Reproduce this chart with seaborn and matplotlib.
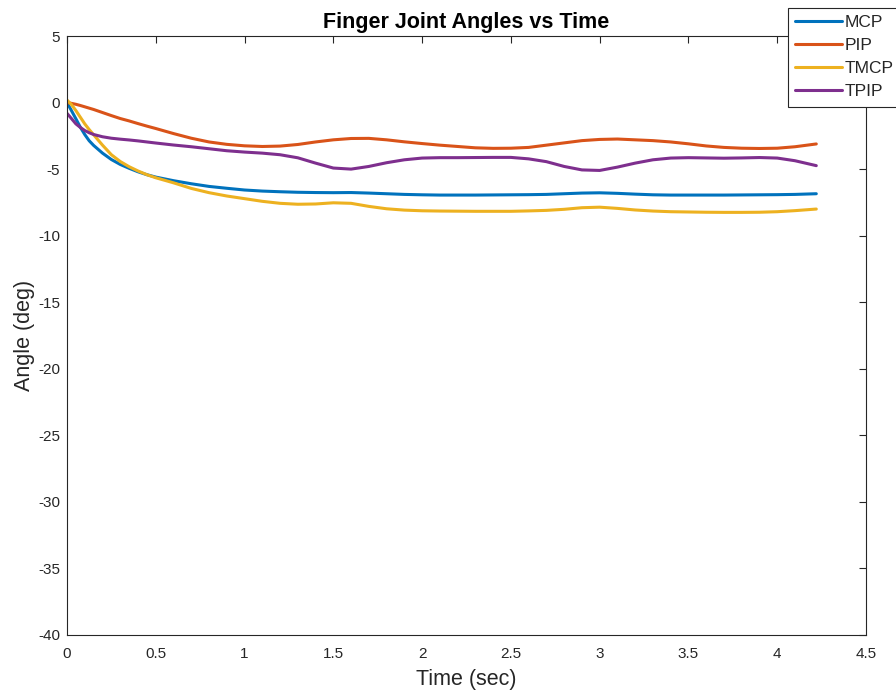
import matplotlib
matplotlib.use("Agg")
import matplotlib.pyplot as plt
import pandas as pd
import seaborn as sns

# Sample times (s)
time_s = [0.0, 0.025, 0.05, 0.075, 0.1, 0.125, 0.15, 0.2, 0.25, 0.3,
          0.35, 0.4, 0.45, 0.5, 0.6, 0.7, 0.8, 0.9, 1.0, 1.1,
          1.2, 1.3, 1.4, 1.5, 1.6, 1.7, 1.8, 1.9, 2.0, 2.1,
          2.2, 2.3, 2.4, 2.5, 2.6, 2.7, 2.8, 2.9, 3.0, 3.1,
          3.2, 3.3, 3.4, 3.5, 3.6, 3.7, 3.8, 3.9, 4.0, 4.1, 4.22]

# Joint angles (deg)
mcp = [0.0, -0.6, -1.22, -1.85, -2.4, -2.87, -3.22, -3.8, -4.28, -4.65,
       -4.94, -5.2, -5.42, -5.6, -5.87, -6.1, -6.3, -6.44, -6.57, -6.65,
       -6.7, -6.74, -6.76, -6.77, -6.76, -6.8, -6.85, -6.9, -6.93, -6.95,
       -6.95, -6.95, -6.94, -6.93, -6.92, -6.9, -6.85, -6.8, -6.78, -6.82,
       -6.88, -6.93, -6.95, -6.95, -6.95, -6.95, -6.94, -6.93, -6.92, -6.9, -6.85]

pip = [0.0, -0.06, -0.13, -0.22, -0.32, -0.42, -0.52, -0.75, -0.98, -1.2,
       -1.38, -1.58, -1.77, -1.95, -2.33, -2.68, -2.96, -3.14, -3.25, -3.3,
       -3.27, -3.15, -2.96, -2.8, -2.7, -2.69, -2.8, -2.95, -3.08, -3.2,
       -3.3, -3.4, -3.44, -3.43, -3.37, -3.2, -3.03, -2.86, -2.77, -2.74,
       -2.8, -2.86, -2.96, -3.1, -3.26, -3.37, -3.43, -3.45, -3.43, -3.32, -3.11]

tmcp = [0.19, -0.15, -0.6, -1.1, -1.6, -2.03, -2.42, -3.2, -3.92, -4.43,
        -4.82, -5.14, -5.42, -5.65, -6.03, -6.45, -6.77, -7.02, -7.22, -7.42,
        -7.57, -7.64, -7.62, -7.53, -7.57, -7.8, -7.98, -8.08, -8.13, -8.15,
        -8.16, -8.17, -8.17, -8.17, -8.14, -8.1, -8.02, -7.9, -7.86, -7.95,
        -8.07, -8.15, -8.2, -8.22, -8.24, -8.25, -8.25, -8.24, -8.2, -8.12, -8.0]

tpip = [-0.81, -1.2, -1.6, -1.87, -2.1, -2.27, -2.4, -2.57, -2.68, -2.75,
        -2.81, -2.88, -2.96, -3.04, -3.19, -3.32, -3.47, -3.62, -3.72, -3.8,
        -3.92, -4.15, -4.55, -4.92, -5.0, -4.8, -4.52, -4.3, -4.17, -4.14,
        -4.14, -4.13, -4.12, -4.12, -4.23, -4.44, -4.8, -5.06, -5.1, -4.85,
        -4.55, -4.3, -4.17, -4.14, -4.16, -4.18, -4.16, -4.13, -4.17, -4.37, -4.74]

joints = ["MCP", "PIP", "TMCP", "TPIP"]
joint_colors = ["#0072BD", "#D95319", "#EDB120", "#7E2F8E"]

x_ticks = [0, 0.5, 1, 1.5, 2, 2.5, 3, 3.5, 4, 4.5]
x_tick_labels = ["0", "0.5", "1", "1.5", "2", "2.5", "3", "3.5", "4", "4.5"]
y_ticks = [5, 0, -5, -10, -15, -20, -25, -30, -35, -40]
y_tick_labels = ["5", "0", "-5", "-10", "-15", "-20", "-25", "-30", "-35", "-40"]

df = pd.DataFrame({
    "Time": time_s * 4,
    "Angle": mcp + pip + tmcp + tpip,
    "Joint": [j for j in joints for _ in time_s],
})

sns.set_theme(style="white")
plt.rcParams["font.family"] = ["Liberation Sans", "DejaVu Sans"]

ink = "#262626"
fig = plt.figure(figsize=(8.96, 6.9), dpi=100)
ax = fig.add_axes([67 / 896, 55 / 690, 799 / 896, 599 / 690])

sns.lineplot(data=df, x="Time", y="Angle", hue="Joint",
             palette=dict(zip(joints, joint_colors)), hue_order=joints,
             linewidth=2.2, estimator=None, sort=False, ax=ax)

ax.set_xlim(0, 4.5)
ax.set_ylim(-40, 5)
ax.set_xticks(x_ticks)
ax.set_xticklabels(x_tick_labels)
ax.set_yticks(y_ticks)
ax.set_yticklabels(y_tick_labels)
ax.tick_params(direction="in", length=5, width=0.8, top=True, right=True,
               labelsize=11, colors=ink, pad=5)
ax.tick_params(axis="x", pad=8.5)
for sp in ax.spines.values():
    sp.set_visible(True)
    sp.set_color(ink)
    sp.set_linewidth(0.8)

ax.set_title("Finger Joint Angles vs Time", fontsize=15.5, fontweight="bold",
             color="black", pad=6)
ax.set_xlabel("Time (sec)", fontsize=15.5, color=ink, labelpad=6)
ax.set_ylabel("Angle (deg)", fontsize=15.5, color=ink, labelpad=2)

handles, labels = ax.get_legend_handles_labels()
leg = ax.legend(handles, labels, loc="upper left",
                bbox_to_anchor=(788 / 896, 1 - 8 / 690),
                bbox_transform=fig.transFigure, frameon=True, fancybox=False,
                edgecolor=ink, framealpha=1, fontsize=12.5,
                handlelength=2.7, handletextpad=0.17, labelspacing=0.45,
                borderpad=0.42, borderaxespad=0)
leg.get_frame().set_linewidth(0.8)
for line in leg.get_lines():
    line.set_linewidth(2.2)

fig.savefig("out.png", dpi=100)
